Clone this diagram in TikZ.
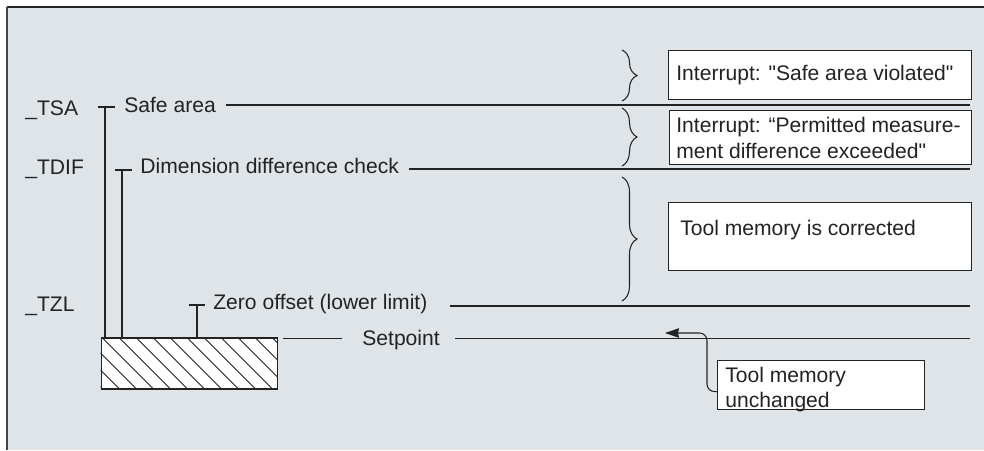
\documentclass[tikz,border=0pt]{standalone}
\usepackage{fontspec}
\setmainfont{Liberation Sans}[Ligatures=TeXOff]
\usetikzlibrary{arrows.meta,decorations.pathreplacing}

\definecolor{panel}{RGB}{222,228,232}
\definecolor{ink}{RGB}{35,35,35}

\begin{document}
\begin{tikzpicture}[x=0.02cm,y=-0.02cm,>={Stealth[length=0.28cm,width=0.19cm,inset=0.02cm]},
	every node/.style={inner sep=0pt,font=\fontsize{12}{14}\selectfont,text=ink},
	lbl/.style={anchor=base west},
	box/.style={draw=ink,fill=white,line width=0.7pt,anchor=north west},
	level/.style={draw=ink,line width=0.6pt},
	bracket/.style={draw=ink,line width=0.6pt,decorate,decoration={brace,amplitude=0.3cm}}]

	% panel
	\useasboundingbox (0,0) rectangle (984,450);
	\fill[white] (0,0) rectangle (984,450);
	\fill[panel] (7,7) rectangle (984,450);
	\draw[ink,line width=0.6pt] (7,7) -- (984,7);
	\draw[ink!85,line width=1.1pt] (7,7) -- (7,450);

	% levels
	\coordinate (rim) at (970,0);
	\coordinate (ysafe) at (0,105);
	\coordinate (ydif) at (0,169);
	\coordinate (yzero) at (0,306);
	\coordinate (yset) at (0,338.5);

	% left names
	\node[lbl] (tsa) at (25,115) {\_TSA};
	\node[lbl] (tdif) at (25,174) {\_TDIF};
	\node[lbl] (tzl) at (25,311) {\_TZL};

	% level texts
	\node[lbl] (safe) at (124,112) {Safe area};
	\node[lbl] (dim) at (140,173) {Dimension difference check};
	\node[lbl] (zero) at (213,309) {Zero offset (lower limit)};
	\node[lbl] (setp) at (362,345) {Setpoint};

	% workpiece
	\node[draw=ink,fill=white,line width=0.7pt,anchor=north west,minimum width=3.52cm,minimum height=1.02cm] (gauge) at (100.7,337.3) {};
	\begin{scope}
		\clip (gauge.south west) rectangle (gauge.north east);
		\foreach \k in {-3,...,10}{
			\draw[ink,line width=0.5pt] (101.7+17*\k,337.3) -- ++(60,60);
		}
	\end{scope}

	% level lines
	\draw[level] ([xshift=0.2cm]safe.east |- ysafe) -- (rim |- ysafe);
	\draw[level] ([xshift=0.2cm]dim.east |- ydif) -- (rim |- ydif);
	\draw[level] ([xshift=0.44cm]zero.east |- yzero) -- (rim |- yzero);
	\draw[level] ([xshift=0.1cm]gauge.north east |- yset) -- ([xshift=-0.4cm]setp.west |- yset);
	\draw[level] ([xshift=0.3cm]setp.east |- yset) -- (rim |- yset);

	% ticks
	\draw[level] (98,107) -- (115,107) (105,107) -- (105,337.3);
	\draw[level] (115,170) -- (132,170) (122,170) -- (122,337.3);
	\draw[level] (189,305) -- (205,305) (197,305) -- (197,337.3);

	% braces
	\draw[bracket] (622,50) -- (622,101);
	\draw[bracket] (622,108) -- (622,166);
	\draw[bracket] (622,177) -- (622,301);

	% boxes
	\node[box,minimum width=6.06cm,minimum height=0.98cm] (b1) at (668,50) {};
	\node[lbl] (t1) at (676,80) {Interrupt: "Safe area violated"};

	\node[box,minimum width=6.04cm,minimum height=1.08cm] (b2) at (669,110) {};
	\node[lbl] (t2) at (676,132) {Interrupt: “Permitted measure-};
	\node[lbl] (t2b) at (676,158) {ment difference exceeded"};

	\node[box,minimum width=6.06cm,minimum height=1.36cm] (b3) at (668,202) {};
	\node[lbl] (t3) at (680,235) {Tool memory is corrected};

	\node[box,minimum width=4.14cm,minimum height=0.98cm] (b4) at (717,360) {};
	\node[lbl] (t4) at (725,382) {Tool memory};
	\node[lbl] (t4b) at (725,407) {unchanged};

	% arrow
	\coordinate (tip) at (665,333);
	\draw[level,->,rounded corners=0.15cm] ([yshift=-0.13cm]b4.west) -- ++(-10,0) |- (tip);

\end{tikzpicture}
\end{document}
